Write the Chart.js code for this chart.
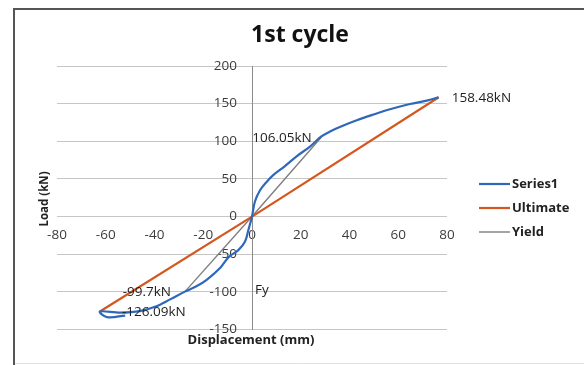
<!DOCTYPE html>
<html>
<head>
<meta charset="utf-8">
<title>1st cycle</title>
<script src="https://cdn.jsdelivr.net/npm/chart.js@4.4.1/dist/chart.umd.min.js"></script>
<style>
  html, body { margin: 0; padding: 0; background: #fff; }
  canvas { display: block; }
</style>
</head>
<body>
<canvas id="chart" width="584" height="365"></canvas>
<script>
// load - displacement curve, 1st cycle
const seriesX = [76.5, 71.7, 64.8, 56.6, 49.8, 43, 37.5, 32, 28.3, 23.8, 18.3, 13.5, 8.7, 6, 3.3, 1.2, 0,
  -1.5, -2.9, -5.6, -9.5, -13, -18.6, -23, -27.5, -33.6, -39.5, -46, -54, -62.4, -59.5, -52];
const seriesY = [158.48, 154, 149.5, 142.5, 135.5, 128, 121, 113, 106.05, 93, 80, 67, 55, 46, 35, 20, 0,
  -18, -33.5, -44.5, -53.5, -68, -84, -93, -99.7, -110, -119.5, -125.5, -127.5, -126.09, -133.5, -131.5];

const ultimateX = [-62.4, 0, 76.6];
const ultimateY = [-126.09, 0, 158.48];

const yieldX = [-27.5, 0, 28.6];
const yieldY = [-99.7, 0, 106.05];

const legendNames = ['Series1', 'Ultimate', 'Yield'];

// point labels: text, x, y
const labelTexts = ['158.48kN', '106.05kN', '-99.7kN', '-126.09kN', 'Fy'];
const labelX = [76.6, 28.6, -27.5, -62.4, 0];
const labelY = [158.48, 106.05, -99.7, -126.09, -99.7];

const toPoints = (xs, ys) => xs.map((x, i) => ({ x: x, y: ys[i] }));

const blue = '#2f68bb';
const orange = '#d4581e';
const grey = '#7f7f7f';
const font = '"Open Sans", "DejaVu Sans", sans-serif';

const extras = {
  id: 'extras',
  beforeDraw(chart) {
    const ctx = chart.ctx;
    ctx.save();
    ctx.fillStyle = '#fff';
    ctx.fillRect(0, 0, chart.width, chart.height);
    // frame
    ctx.strokeStyle = '#555';
    ctx.lineWidth = 2;
    ctx.beginPath();
    ctx.moveTo(14, 365);
    ctx.lineTo(14, 9);
    ctx.lineTo(584, 9);
    ctx.stroke();
    ctx.strokeStyle = '#e2e2e2';
    ctx.lineWidth = 1;
    ctx.beginPath();
    ctx.moveTo(15, 363.5);
    ctx.lineTo(584, 363.5);
    ctx.stroke();
    ctx.restore();
  },
  beforeDatasetsDraw(chart) {
    // y tick labels sit left of the centred axis
    const ctx = chart.ctx;
    const xs = chart.scales.x, ys = chart.scales.y;
    const x0 = xs.getPixelForValue(0);
    ctx.save();
    ctx.font = '13.5px ' + font;
    ctx.fillStyle = '#3c3c3c';
    ctx.textAlign = 'right';
    ctx.textBaseline = 'middle';
    ys.ticks.forEach(t => {
      ctx.fillText(String(t.value), x0 - 15, ys.getPixelForValue(t.value));
    });
    ctx.restore();
  },
  afterDraw(chart) {
    const ctx = chart.ctx;
    const xs = chart.scales.x, ys = chart.scales.y;
    ctx.save();

    // title
    ctx.fillStyle = '#111';
    ctx.textAlign = 'center';
    ctx.textBaseline = 'middle';
    ctx.font = 'bold 23px ' + font;
    ctx.fillText('1st cycle', 300, 35);

    // axis titles
    ctx.font = 'bold 13px ' + font;
    ctx.fillStyle = '#222';
    ctx.fillText('Displacement (mm)', 251, 340);
    ctx.save();
    ctx.translate(45, 199);
    ctx.rotate(-Math.PI / 2);
    ctx.font = 'bold 11.5px ' + font;
    ctx.fillText('Load (kN)', 0, 0);
    ctx.restore();

    // point labels
    ctx.font = '13.5px ' + font;
    ctx.fillStyle = '#1e1e1e';
    const offs = [[13, 1, 'left'], [-10, 1, 'right'], [-14, 1, 'right'], [22, 1, 'left'], [3, -1, 'left']];
    labelTexts.forEach((t, i) => {
      ctx.textAlign = offs[i][2];
      ctx.fillText(t, xs.getPixelForValue(labelX[i]) + offs[i][0], ys.getPixelForValue(labelY[i]) + offs[i][1]);
    });

    // legend
    ctx.font = 'bold 13px ' + font;
    ctx.textAlign = 'left';
    chart.data.datasets.forEach((ds, i) => {
      const y = 184 + i * 24;
      ctx.strokeStyle = ds.borderColor;
      ctx.lineWidth = ds.borderWidth;
      ctx.beginPath();
      ctx.moveTo(479, y);
      ctx.lineTo(510, y);
      ctx.stroke();
      ctx.fillStyle = '#222';
      ctx.fillText(legendNames[i], 512, y);
    });
    ctx.restore();
  }
};

new Chart(document.getElementById('chart'), {
  type: 'scatter',
  data: {
    datasets: [{
      label: legendNames[0],
      data: toPoints(seriesX, seriesY),
      showLine: true,
      borderColor: blue,
      backgroundColor: blue,
      borderWidth: 2.2,
      pointRadius: 0,
      tension: 0.35
    }, {
      label: legendNames[1],
      data: toPoints(ultimateX, ultimateY),
      showLine: true,
      borderColor: orange,
      backgroundColor: orange,
      borderWidth: 2.2,
      pointRadius: 0,
      tension: 0
    }, {
      label: legendNames[2],
      data: toPoints(yieldX, yieldY),
      showLine: true,
      borderColor: grey,
      backgroundColor: grey,
      borderWidth: 1.4,
      pointRadius: 0,
      tension: 0
    }]
  },
  options: {
    responsive: false,
    animation: false,
    layout: { padding: { left: 57, right: 137, top: 66, bottom: 35.5 } },
    plugins: {
      legend: { display: false },
      title: { display: false },
      tooltip: { enabled: false }
    },
    scales: {
      x: {
        type: 'linear',
        position: { y: 0 },
        min: -80,
        max: 80,
        grid: { display: false, drawTicks: false },
        border: { display: false },
        ticks: { stepSize: 20, padding: 10, color: '#3c3c3c', font: { family: font, size: 13.5 } }
      },
      y: {
        type: 'linear',
        position: { x: 0 },
        min: -150,
        max: 200,
        grid: { color: '#c6c6c6', lineWidth: 1, drawTicks: false },
        border: { display: true, color: '#8a8a8a', width: 1 },
        ticks: { stepSize: 50, display: false }
      }
    }
  },
  plugins: [extras]
});
</script>
</body>
</html>
